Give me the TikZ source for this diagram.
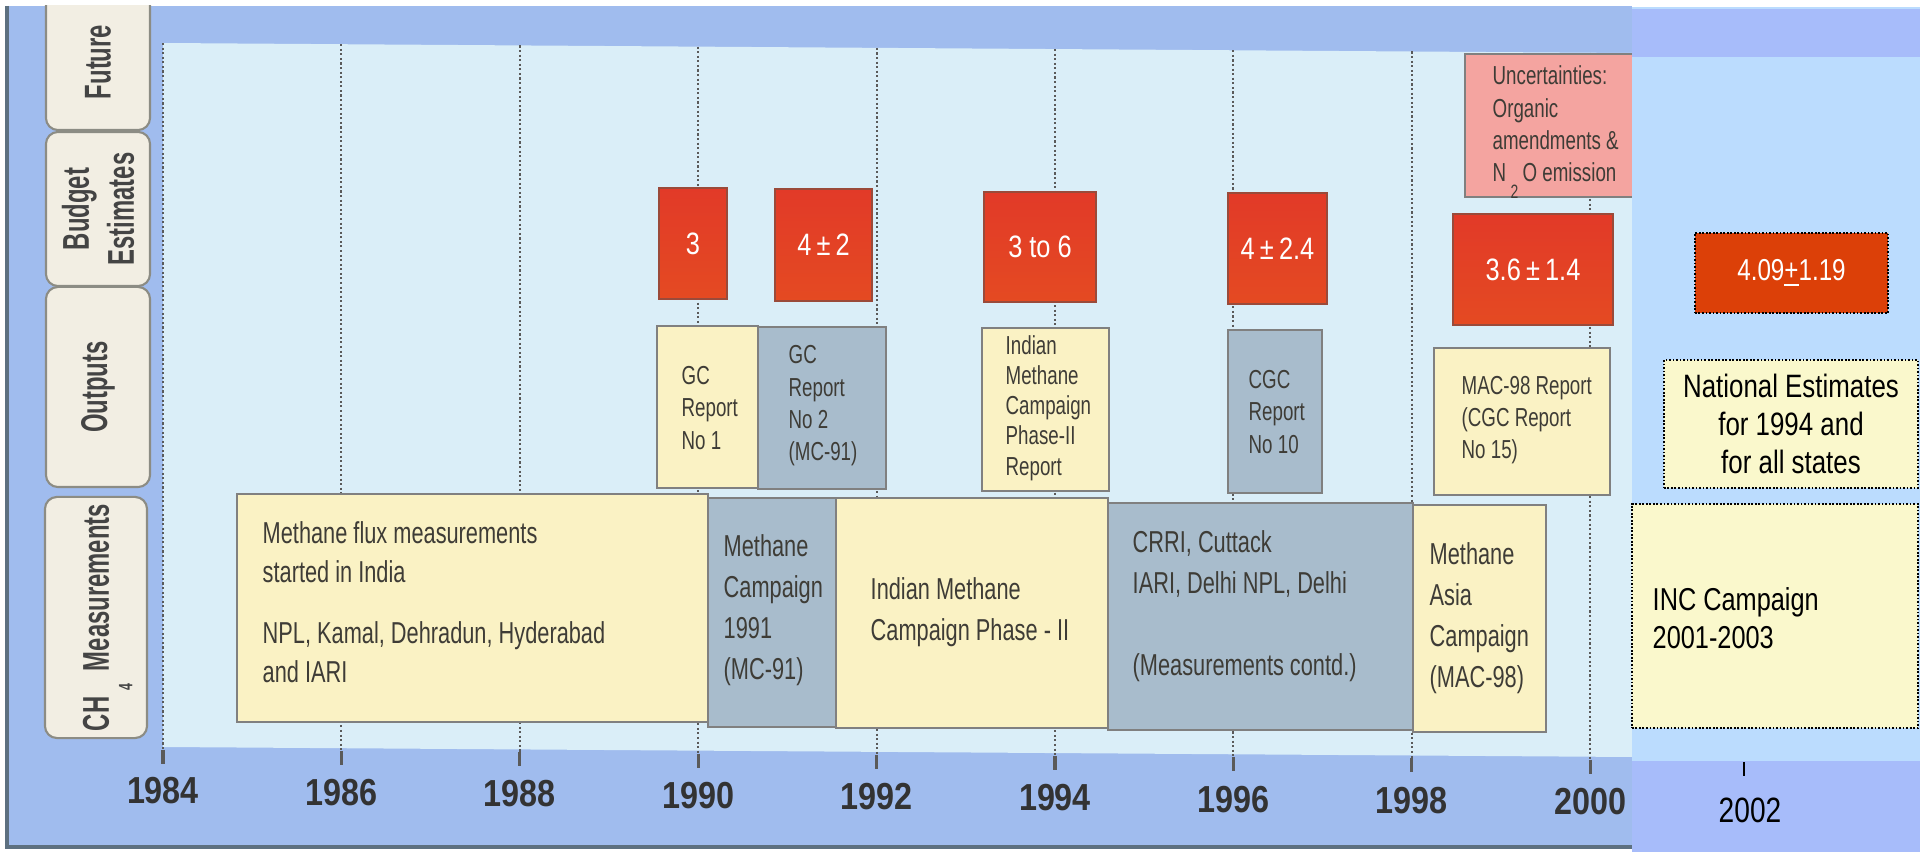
\documentclass[tikz,border=0pt]{standalone}
\usepackage{fontspec}
\setmainfont{Liberation Sans}
\newfontfamily\boxfont[FakeStretch=0.72]{Liberation Sans}
\newfontfamily\numfont[FakeStretch=0.82]{Liberation Sans}
\newfontfamily\tabfont[FakeStretch=0.64]{Liberation Sans}
\newfontfamily\yearfont[FakeStretch=0.86]{Liberation Sans}
\newfontfamily\panelfont[FakeStretch=0.8]{Liberation Sans}

\definecolor{frameblue}{HTML}{A0BCEE}
\definecolor{frameedge}{HTML}{5D7080}
\definecolor{plotblue}{HTML}{DAEEF8}
\definecolor{panelblue}{HTML}{BBDCFE}
\definecolor{bandblue}{HTML}{A7BCFA}
\definecolor{tabfill}{HTML}{F2EEE3}
\definecolor{tabline}{HTML}{8C8C84}
\definecolor{tabink}{HTML}{444444}
\definecolor{boxyellow}{HTML}{FAF2C4}
\definecolor{boxslate}{HTML}{A8BCCC}
\definecolor{boxline}{HTML}{808080}
\definecolor{budgetred}{HTML}{E23A28}
\definecolor{budgetorange}{HTML}{E44A22}
\definecolor{redline}{HTML}{9A4A3A}
\definecolor{futurepink}{HTML}{F4A4A0}
\definecolor{estred}{HTML}{DC4008}
\definecolor{paleyellow}{HTML}{FAF8CC}
\definecolor{inkgrey}{HTML}{3E3C36}
\definecolor{gridgrey}{HTML}{5A5A5A}
\definecolor{yearink}{HTML}{333333}

\newcommand{\lowsub}[1]{\raisebox{-1.2ex}[0pt][0pt]{\fontsize{5.5}{5.5}\selectfont #1}}

\begin{document}
\begin{tikzpicture}[x=0.01cm, y=-0.01cm,
    ybox/.style={draw=boxline, line width=0.45pt, fill=boxyellow, inner sep=0pt},
    gbox/.style={ybox, fill=boxslate},
    boxtext/.style={align=left, inner sep=0pt, anchor=west, text=inkgrey},
    meas/.style={boxtext, font=\boxfont\fontsize{8.6}{11.6}\selectfont},
    outp/.style={boxtext, font=\boxfont\fontsize{7.4}{9.2}\selectfont},
    rbox/.style={draw=redline, line width=0.4pt, top color=budgetred, bottom color=budgetorange,
                 text=white, inner sep=0pt, font=\numfont\fontsize{8.8}{10}\selectfont},
    tabshape/.style={draw=tabline, line width=0.6pt, fill=tabfill, rounded corners=0.12cm, rotate=90,
                     text=tabink, align=center, inner sep=0pt, font=\tabfont\bfseries\fontsize{10.6}{12.8}\selectfont},
    pbox/.style={draw=black, line width=0.6pt, dash pattern=on 0.5pt off 0.5pt, inner sep=0pt},
    gridline/.style={draw=gridgrey, line width=0.55pt, dash pattern=on 0.6pt off 0.7pt},
    tickline/.style={draw=gridgrey, line width=0.9pt},
    yearlabel/.style={font=\yearfont\bfseries\fontsize{10.7}{12}\selectfont, text=yearink}]

    \useasboundingbox (0,0) rectangle (1920,852);
    \fill[white] (0,0) rectangle (1920,852);

    % scanned chart: blue frame and pale plot area
    \fill[frameblue] (7,6) rectangle (1632,847);
    \fill[plotblue] (163,43) -- (1632,53) -- (1632,757) -- (163,747) -- cycle;
    \draw[frameedge, line width=1pt] (7,6) -- (7,847) -- (1632,847);

    % year grid
    \foreach \yr in {1984,1986,...,2000}{
        \pgfmathsetmacro{\gx}{163+89.2*(\yr-1984)}
        \pgfmathsetmacro{\gtop}{43+(\gx-163)/147}
        \pgfmathsetmacro{\gbot}{750+(\gx-163)/147}
        \draw[gridline] (\gx,\gtop) -- (\gx,\gbot);
        \draw[tickline] (\gx,\gbot) -- (\gx,\gbot+14);
        \node[yearlabel] (y\yr) at (\gx,{791+(\gx-163)/130}) {\yr};
    }

    % row tabs
    \begin{scope}
        \clip (7,6) rectangle (1632,847);
        \node[tabshape, minimum width=1.36cm, minimum height=1.04cm] (tfuture) at (98,62) {Future};
        \node[tabshape, minimum width=1.54cm, minimum height=1.04cm] (tbudget) at (98,209) {Budget\\Estimates};
        \node[tabshape, minimum width=2.00cm, minimum height=1.04cm] (toutputs) at (98,387) {Outputs};
        \node[tabshape, minimum width=2.41cm, minimum height=1.02cm] (tmeas) at (96,617.5)
            {CH\,\lowsub{4}\,\,Measurements};
    \end{scope}

    % CH4 measurements
    \node[ybox, minimum width=4.71cm, minimum height=2.28cm] (flux) at (472.5,608) {};
    \node[gbox, minimum width=1.28cm, minimum height=2.29cm] (mc91) at (772,612.5) {};
    \node[ybox, minimum width=2.72cm, minimum height=2.30cm] (imcp) at (972,613) {};
    \node[gbox, minimum width=3.05cm, minimum height=2.27cm] (crri) at (1260.5,616.5) {};
    \node[ybox, minimum width=1.33cm, minimum height=2.27cm] (mac98) at (1479.5,618.5) {};

    \node[meas, font=\boxfont\fontsize{8.6}{11.2}\selectfont] (fluxtext) at (262,602)
        {Methane flux measurements\\started in India\\[6pt]NPL, Kamal, Dehradun, Hyderabad\\and IARI};
    \node[meas] (mc91text) at (723,610) {Methane\\Campaign\\1991\\(MC-91)};
    \node[meas] (imcptext) at (870,612) {Indian Methane\\Campaign Phase - II};
    \node[meas] (crritext) at (1132,606) {CRRI, Cuttack\\IARI, Delhi NPL, Delhi\\[11.6pt](Measurements contd.)};
    \node[meas] (mac98text) at (1429,618) {Methane\\Asia\\Campaign\\(MAC-98)};

    % outputs
    \node[ybox, minimum width=1.01cm, minimum height=1.62cm] (gc1) at (707.5,407) {};
    \node[gbox, minimum width=1.28cm, minimum height=1.62cm] (gc2) at (822,408) {};
    \node[ybox, minimum width=1.27cm, minimum height=1.63cm] (imcpr) at (1045.5,409.5) {};
    \node[gbox, minimum width=0.94cm, minimum height=1.63cm] (cgc10) at (1275,411.5) {};
    \node[ybox, minimum width=1.76cm, minimum height=1.47cm] (mac98r) at (1522,421.5) {};

    \node[outp] (gc1text) at (681,408) {GC\\Report\\No 1};
    \node[outp] (gc2text) at (788,406) {GC\\Report\\No 2\\(MC-91)};
    \node[outp, font=\boxfont\fontsize{7.4}{8.6}\selectfont] (imcprtext) at (1005,408)
        {Indian\\Methane\\Campaign\\Phase-II\\Report};
    \node[outp] (cgc10text) at (1248,412) {CGC\\Report\\No 10};
    \node[outp] (mac98rtext) at (1461,420) {MAC-98 Report\\(CGC Report\\No 15)};

    % budget estimates
    \node[rbox, minimum width=0.68cm, minimum height=1.11cm] (b1) at (693,243.5) {3};
    \node[rbox, minimum width=0.97cm, minimum height=1.12cm] (b2) at (823.5,245) {4\,±\,2};
    \node[rbox, minimum width=1.12cm, minimum height=1.10cm] (b3) at (1040,247) {3 to 6};
    \node[rbox, minimum width=0.99cm, minimum height=1.11cm] (b4) at (1277.5,248.5) {4\,±\,2.4};
    \node[rbox, minimum width=1.60cm, minimum height=1.11cm] (b5) at (1533,269.5) {3.6\,±\,1.4};

    % future
    \node[ybox, fill=futurepink, minimum width=1.75cm, minimum height=1.43cm] (unc) at (1552.5,125.5) {};
    \node[outp] (unctext) at (1492,124)
        {Uncertainties:\\Organic\\amendments \&\\N\,\lowsub{2}\,O emission};

    % added panel for 2002
    \fill[panelblue] (1632,7) rectangle (1920,852);
    \fill[bandblue] (1632,9) rectangle (1920,57);
    \fill[bandblue] (1632,761) rectangle (1920,852);

    \node[pbox, fill=estred, text=white, font=\panelfont\fontsize{8.6}{10}\selectfont,
          minimum width=1.93cm, minimum height=0.80cm] (est) at (1791.5,273) {4.09\underline{+}1.19};
    \node[pbox, fill=paleyellow, align=center, font=\panelfont\fontsize{9.2}{10.8}\selectfont,
          minimum width=2.54cm, minimum height=1.28cm] (natl) at (1791,424)
        {National Estimates\\for 1994 and\\for all states};
    \node[pbox, fill=paleyellow, minimum width=2.86cm, minimum height=2.24cm] (inc) at (1775,616) {};
    \node[align=left, inner sep=0pt, anchor=west, font=\panelfont\fontsize{9}{10.8}\selectfont] (inctext)
        at (1652,618) {INC Campaign\\2001-2003};

    \coordinate (t2002) at (1744,762);
    \draw[line width=0.6pt] (t2002) -- ++(0,14);
    \node[font=\panelfont\fontsize{10}{11}\selectfont] (y2002) at (1750,810) {2002};
\end{tikzpicture}
\end{document}
